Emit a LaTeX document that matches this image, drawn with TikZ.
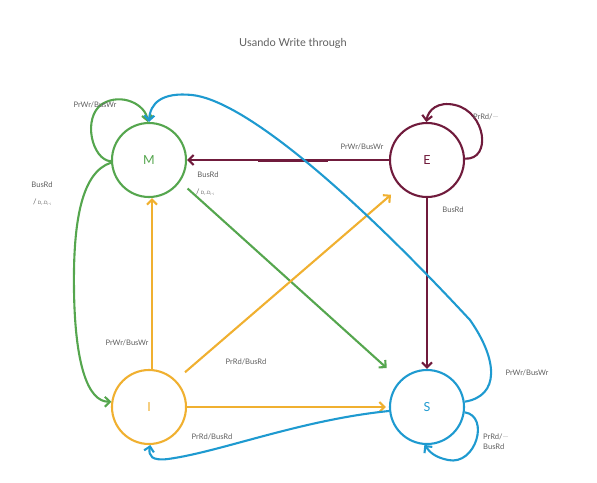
\documentclass[tikz,border=0pt]{standalone}
\usepackage{fontspec}
\setmainfont{Lato}
\usetikzlibrary{arrows.meta,calc}
\definecolor{mg}{HTML}{55A64E}
\definecolor{me}{HTML}{701B3C}
\definecolor{mi}{HTML}{F0B030}
\definecolor{ms}{HTML}{1E9AD0}
\definecolor{lbl}{HTML}{606060}
\tikzset{
  st/.style={circle, line width=2.1pt, minimum size=74pt, inner sep=0pt, fill=white, font=\fontsize{12.5}{14}\selectfont},
  edge/.style={line width=2.1pt, -{Straight Barb[length=5pt,width=10pt,line width=2.1pt]}},
  lab/.style={text=lbl, font=\fontsize{7.6}{9}\selectfont, inner sep=0pt}
}
\begin{document}
\begin{tikzpicture}[x=1pt,y=-1pt]
\useasboundingbox (0,0) rectangle (597,482);
\node[text=lbl, font=\fontsize{11}{13}\selectfont] (title) at (293,43) {Usando Write through};

\node[st, draw=mg, text=mg] (M) at (149,160) {M};
\node[st, draw=me, text=me] (E) at (427,160) {E};
\node[st, draw=mi, text=mi] (I) at (149,407) {I};
\node[st, draw=ms, text=ms] (S) at (427,407) {S};

% M edges
\draw[edge, mg] (M.182) .. controls (92,160) and (82,118) .. (102,104) .. controls (122,92) and (146,105) .. (M.92);
\draw[edge, mg] (M.184) .. controls (82,172) and (73,220) .. (74,290) .. controls (75,365) and (88,402) .. (I.172);
\draw[edge, mg, shorten <=10pt, shorten >=18pt] (M.-35) -- (S.135);

% E edges
\draw[edge, me] (E.west) -- (M.east);
\draw[me, line width=3pt] ($(M.east)!0.35!(E.west)$) -- ($(M.east)!0.7!(E.west)$);
\draw[edge, me] (E.2) .. controls (492,160) and (486,112) .. (455,105) .. controls (438,101) and (428,110) .. (E.91);
\draw[edge, me] (E.south) -- (S.north);

% I edges
\draw[edge, mi] ([xshift=3pt]I.north) -- ([xshift=3pt]M.south);
\draw[mi, line width=2.6pt] ([xshift=3pt]$(I.north)!0.5!(M.south)$) -- ([xshift=3pt]$(I.north)!0.65!(M.south)$);
\draw[edge, mi, shorten <=12pt, shorten >=12pt] (I.45) -- (E.225);
\draw[edge, mi, shorten >=3pt] (I.east) -- (S.west);

% S edges
\draw[edge, ms] (S.8) .. controls (500,396) and (498,360) .. (470,320) .. controls (340,180) and (240,100) .. (192,95) .. controls (162,92) and (150,103) .. (M.90);
\draw[edge, ms] (S.186) .. controls (300,420) and (220,452) .. (168,459) .. controls (152,461) and (148,456) .. (I.272);
\draw[edge, ms] (S.352) .. controls (490,416) and (476,466) .. (448,460) .. controls (434,457) and (430,452) .. (S.266);

% labels
\node[lab] (l1) at (95,105) {PrWr/BusWr};
\node[lab] (l2) at (42,185) {BusRd};
\node[lab, anchor=west] (l3) at (33,202) {/\,{\fontsize{4.5}{5}\selectfont D\textsubscript{r}.D\textsubscript{r}.\textsubscript{i}}};
\node[lab] (l4) at (208,175) {BusRd};
\node[lab, anchor=west] (l5) at (196,192) {/\,{\fontsize{4.5}{5}\selectfont D\textsubscript{r}.D\textsubscript{r}.\textsubscript{i}}};
\node[lab] (l6) at (362,147) {PrWr/BusWr};
\node[lab, anchor=west] (l7) at (473,117) {PrRd/\textcolor{lbl!40}{---}};
\node[lab] (l8) at (453,210) {BusRd};
\node[lab] (l9) at (127,343) {PrWr/BusWr};
\node[lab] (l10) at (246,362) {PrRd/BusRd};
\node[lab] (l11) at (212,437) {PrRd/BusRd};
\node[lab] (l12) at (527,373) {PrWr/BusWr};
\node[lab, anchor=west] (l13) at (483,437) {PrRd/\textcolor{lbl!40}{---}};
\node[lab, anchor=west] (l14) at (483,447) {BusRd};
\end{tikzpicture}
\end{document}
